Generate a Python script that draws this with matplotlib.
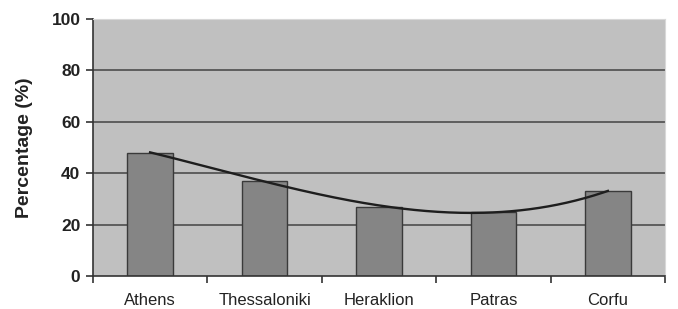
import numpy as np
import matplotlib
matplotlib.use('Agg')
import matplotlib.pyplot as plt

plt.rcParams['font.family'] = ['Liberation Sans', 'DejaVu Sans']

# data
cities = ['Athens', 'Thessaloniki', 'Heraklion', 'Patras', 'Corfu']
percent = [48, 37, 27, 25, 33]
y_ticks = [0, 20, 40, 60, 80, 100]

x = np.arange(len(cities))

# 3rd order polynomial trend line (like the spreadsheet trendline)
coef = np.polyfit(x, percent, 3)
xs = np.linspace(x[0], x[-1], 200)
trend = np.polyval(coef, xs)

fig = plt.figure(figsize=(6.78, 3.09), dpi=100)
ax = fig.add_axes([0.137, 0.107, 0.844, 0.832])
ax.set_facecolor('#c0c0c0')

for yv in y_ticks[1:-1]:
    ax.axhline(yv, color='#4d4d4d', lw=1.2, zorder=1)

ax.bar(x, percent, width=0.4, color='#858585', edgecolor='#3a3a3a', lw=1.0, zorder=2)
ax.plot(xs, trend, color='#1e1e1e', lw=1.7, zorder=3)

ax.set_xlim(-0.5, len(cities) - 0.5)
ax.set_ylim(0, 100)

ax.set_yticks(y_ticks)
ax.set_yticklabels([str(v) for v in y_ticks], fontsize=12.5, fontweight='bold', color='#222222')
ax.tick_params(axis='y', direction='out', length=5, width=1.2, color='#333333', pad=4)

# category labels at centres, tick marks at category borders
ax.set_xticks(np.arange(-0.5, len(cities), 1.0))
ax.set_xticklabels([])
ax.set_xticks(x, minor=True)
ax.set_xticklabels(cities, minor=True, fontsize=12, color='#222222')
ax.tick_params(axis='x', which='major', direction='out', length=5, width=1.2, color='#333333')
ax.tick_params(axis='x', which='minor', length=0, pad=12)

ax.set_ylabel('Percentage (%)', fontsize=14, fontweight='bold', color='#222222', labelpad=13)

ax.spines['left'].set_color('#333333')
ax.spines['left'].set_linewidth(1.2)
ax.spines['bottom'].set_color('#333333')
ax.spines['bottom'].set_linewidth(1.2)
ax.spines['top'].set_color('#d8d8d8')
ax.spines['right'].set_color('#d8d8d8')

fig.savefig('out.png', dpi=100, facecolor='white')
